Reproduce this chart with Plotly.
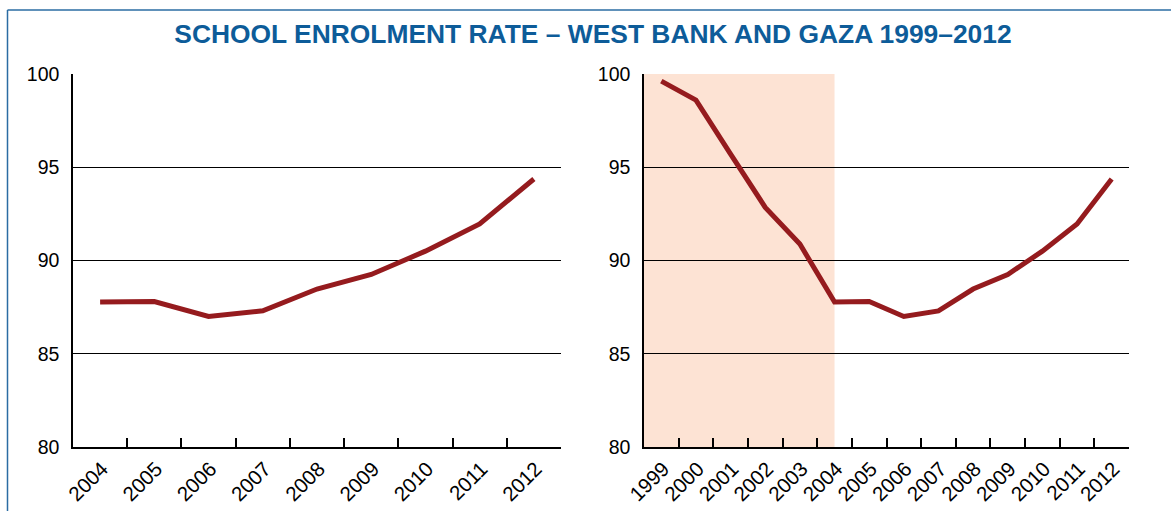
import plotly.graph_objects as go

# School enrolment rate, West Bank and Gaza (%)
years = ["1999", "2000", "2001", "2002", "2003", "2004", "2005",
         "2006", "2007", "2008", "2009", "2010", "2011", "2012"]
enrolment = [99.62, 98.6, 95.7, 92.85, 90.88, 87.77, 87.8,
             87.0, 87.3, 88.47, 89.25, 90.5, 91.96, 94.37]

recent_start = "2004"
shade_end = "2004"
y_ticks = [80, 85, 90, 95, 100]

W, H = 1171, 511
LINE = "#951b1e"
SHADE = "#fde3d4"
FRAME = "#2b6ca3"
TITLE = "#0d5c99"
FONT = "Liberation Sans, Arial, sans-serif"

i0 = years.index(recent_start)
left_years = years[i0:]
left_vals = enrolment[i0:]


def px_x(p):
    return p / W


def px_y(p):
    return 1 - p / H


fig = go.Figure()
fig.add_trace(go.Scatter(x=left_years, y=left_vals, mode="lines",
                         line=dict(color=LINE, width=5),
                         xaxis="x", yaxis="y", showlegend=False))
fig.add_trace(go.Scatter(x=years, y=enrolment, mode="lines",
                         line=dict(color=LINE, width=5),
                         xaxis="x2", yaxis="y2", showlegend=False))

xcommon = dict(type="category", tickson="boundaries", ticks="inside",
               ticklen=9, tickwidth=1.5, tickcolor="black",
               showline=True, linecolor="black", linewidth=1.5,
               showgrid=False, zeroline=False, tickangle=-45,
               ticklabelshift=2, ticklabelstandoff=0,
               tickfont=dict(family=FONT, size=20.5, color="black"),
               automargin=False, fixedrange=True)
ycommon = dict(range=[80, 100], tickvals=y_ticks, ticks="",
               showline=True, linecolor="black", linewidth=1.5,
               showgrid=True, gridcolor="black", gridwidth=1,
               zeroline=False, ticklabelstandoff=8,
               tickfont=dict(family=FONT, size=19.5, color="black"),
               automargin=False, fixedrange=True)

fig.update_layout(
    width=W, height=H,
    margin=dict(l=0, r=0, t=0, b=0),
    paper_bgcolor="white", plot_bgcolor="rgba(0,0,0,0)",
    xaxis=dict(xcommon, domain=[px_x(73), px_x(561)], anchor="y",
               range=[-0.5, len(left_years) - 0.5]),
    yaxis=dict(ycommon, domain=[px_y(447), px_y(74)], anchor="x"),
    xaxis2=dict(xcommon, domain=[px_x(644), px_x(1129)], anchor="y2",
                range=[-0.5, len(years) - 0.5]),
    yaxis2=dict(ycommon, domain=[px_y(447), px_y(74)], anchor="x2"),
    title=dict(text="<b>SCHOOL ENROLMENT RATE – WEST BANK AND GAZA 1999–2012</b>",
               x=px_x(593), xanchor="center", y=px_y(34), yanchor="middle",
               font=dict(family=FONT, size=26.4, color=TITLE)),
)

# shaded period on the full-series panel
fig.add_shape(type="rect", xref="x2", yref="y2",
              x0=-0.5, x1=years.index(shade_end), y0=80, y1=100,
              fillcolor=SHADE, line_width=0, layer="below")

# outer frame (left and top edges)
fig.add_shape(type="line", xref="paper", yref="paper",
              x0=px_x(7.5), x1=px_x(7.5), y0=-0.05, y1=px_y(10),
              line=dict(color=FRAME, width=1.5))
fig.add_shape(type="line", xref="paper", yref="paper",
              x0=px_x(7.5), x1=1.05, y0=px_y(10), y1=px_y(10),
              line=dict(color=FRAME, width=1.5))

fig.write_html("out.html")
